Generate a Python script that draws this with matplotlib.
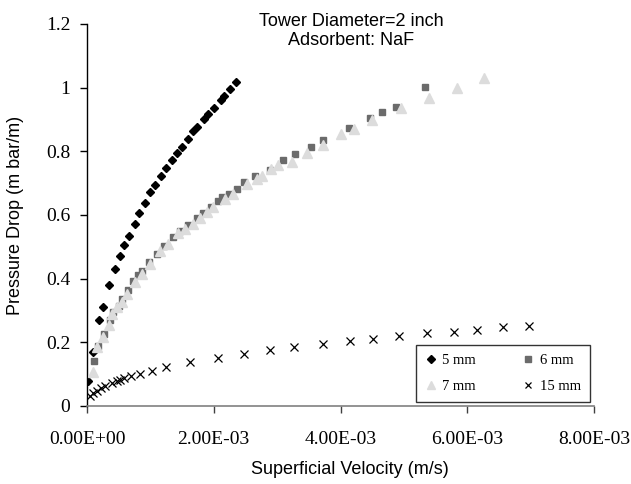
import matplotlib
matplotlib.use("Agg")
import matplotlib.pyplot as plt
import numpy as np

# ---- data (velocity in m/s, pressure drop in m bar/m) ----
x_5mm = np.array([0.02, 0.10, 0.19, 0.26, 0.35, 0.44, 0.52, 0.59, 0.67, 0.75, 0.82, 0.91, 1.00,
                  1.08, 1.167, 1.25, 1.345, 1.42, 1.50, 1.59, 1.68, 1.735, 1.84, 1.91, 2.00,
                  2.12, 2.16, 2.26, 2.345]) * 1e-3
y_5mm = [0.08, 0.17, 0.27, 0.31, 0.38, 0.43, 0.47, 0.505, 0.535, 0.573, 0.605, 0.637, 0.671,
         0.693, 0.724, 0.749, 0.772, 0.796, 0.815, 0.840, 0.864, 0.875, 0.900, 0.917, 0.937,
         0.960, 0.975, 0.996, 1.018]

x_6mm = np.array([0.11, 0.18, 0.27, 0.36, 0.415, 0.50, 0.56, 0.64, 0.72, 0.80, 0.86, 0.98, 1.10,
                  1.21, 1.36, 1.47, 1.60, 1.73, 1.83, 1.96, 2.06, 2.13, 2.24, 2.37, 2.48, 2.65,
                  2.88, 3.09, 3.28, 3.53, 3.72, 4.13, 4.46, 4.66, 4.87, 5.34]) * 1e-3
y_6mm = [0.141, 0.190, 0.225, 0.269, 0.295, 0.315, 0.337, 0.365, 0.394, 0.41, 0.425, 0.451, 0.478,
         0.504, 0.530, 0.550, 0.570, 0.591, 0.605, 0.626, 0.645, 0.655, 0.666, 0.681, 0.704, 0.721,
         0.742, 0.772, 0.791, 0.814, 0.835, 0.873, 0.904, 0.925, 0.940, 1.002]

x_7mm = np.array([0.09, 0.15, 0.26, 0.34, 0.39, 0.47, 0.55, 0.63, 0.76, 0.86, 0.99, 1.15, 1.28,
                  1.44, 1.55, 1.68, 1.78, 1.89, 1.99, 2.18, 2.31, 2.52, 2.68, 2.76, 2.91, 3.02,
                  3.24, 3.47, 3.72, 4.00, 4.21, 4.50, 4.95, 5.39, 5.84, 6.26]) * 1e-3
y_7mm = [0.107, 0.185, 0.218, 0.253, 0.29, 0.31, 0.326, 0.352, 0.389, 0.415, 0.446, 0.488, 0.509,
         0.542, 0.556, 0.572, 0.592, 0.608, 0.624, 0.650, 0.666, 0.697, 0.713, 0.723, 0.744, 0.758,
         0.768, 0.796, 0.820, 0.854, 0.870, 0.899, 0.935, 0.969, 1.000, 1.029]

x_15mm = np.array([0.04, 0.10, 0.16, 0.22, 0.28, 0.39, 0.47, 0.52, 0.59, 0.70, 0.83, 1.02, 1.25,
                   1.63, 2.07, 2.47, 2.88, 3.27, 3.73, 4.15, 4.52, 4.93, 5.36, 5.79, 6.16, 6.56,
                   6.98]) * 1e-3
y_15mm = [0.030, 0.040, 0.048, 0.057, 0.064, 0.071, 0.077, 0.082, 0.087, 0.094, 0.102, 0.111, 0.121,
          0.139, 0.152, 0.163, 0.177, 0.185, 0.196, 0.205, 0.211, 0.219, 0.228, 0.233, 0.240, 0.247,
          0.252]

x_ticks = [0, 2e-3, 4e-3, 6e-3, 8e-3]
x_ticklabels = ["0.00E+00", "2.00E-03", "4.00E-03", "6.00E-03", "8.00E-03"]
y_ticks = [0, 0.2, 0.4, 0.6, 0.8, 1.0, 1.2]
y_ticklabels = ["0", "0.2", "0.4", "0.6", "0.8", "1", "1.2"]

serif = "Liberation Serif"
sans = "Liberation Sans"

fig = plt.figure(figsize=(6.31, 4.84), dpi=100)
ax = fig.add_axes([87 / 631, 1 - 406 / 484, 507 / 631, 382 / 484])

h5, = ax.plot(x_5mm, y_5mm, linestyle="none", marker="D", ms=4.3, color="black", label="5 mm", zorder=3)
h6, = ax.plot(x_6mm, y_6mm, linestyle="none", marker="s", ms=5, color="#6b6b6b", label="6 mm", zorder=3)
h7, = ax.plot(x_7mm, y_7mm, linestyle="none", marker="^", ms=6.5, color="#dcdcdc", label="7 mm", zorder=3)
h15, = ax.plot(x_15mm, y_15mm, linestyle="none", marker="x", ms=5.5, mew=0.9, color="black", label="15 mm", zorder=4)

ax.set_xlim(0, 8e-3)
ax.set_ylim(0, 1.2)
ax.set_xticks(x_ticks)
ax.set_xticklabels(x_ticklabels, fontfamily=serif, fontsize=14)
ax.set_yticks(y_ticks)
ax.set_yticklabels(y_ticklabels, fontfamily=serif, fontsize=14)
ax.tick_params(axis="x", direction="out", length=5, width=1, pad=13, color="#404040")
ax.tick_params(axis="y", direction="out", length=5, width=1, pad=7)

for s in ["top", "right"]:
    ax.spines[s].set_visible(False)
ax.spines["bottom"].set_color("#808080")
ax.spines["bottom"].set_linewidth(1.2)
ax.spines["left"].set_color("black")
ax.spines["left"].set_linewidth(1.0)

ax.set_xlabel("Superficial Velocity (m/s)", fontfamily=sans, fontsize=13)
ax.xaxis.set_label_coords((350 - 87) / 507, -0.145)
ax.set_ylabel("Pressure Drop (m bar/m)", fontfamily=sans, fontsize=13)
ax.yaxis.set_label_coords(-0.125, 0.5)

fig.text(351 / 631, 1 - 31 / 484, "Tower Diameter=2 inch\nAdsorbent: NaF",
         ha="center", va="center", fontfamily=sans, fontsize=13)

# column-wise fill: order so rows read 5 mm, 6 mm / 7 mm, 15 mm
leg = ax.legend([h5, h7, h6, h15], ["5 mm", "7 mm", "6 mm", "15 mm"], ncol=2, loc="lower left",
                bbox_to_anchor=((416 - 87) / 507, (406 - 402) / 382, (590 - 416) / 507, (402 - 343) / 382),
                mode="expand", borderaxespad=0, frameon=True, fancybox=False,
                prop={"family": serif, "size": 10.5}, handlelength=0.8, handletextpad=0.4,
                labelspacing=0.9, borderpad=0.6, columnspacing=1.0, markerscale=0.85)
leg.get_frame().set_edgecolor("black")
leg.get_frame().set_linewidth(1.0)

fig.savefig("out.png", dpi=100)
